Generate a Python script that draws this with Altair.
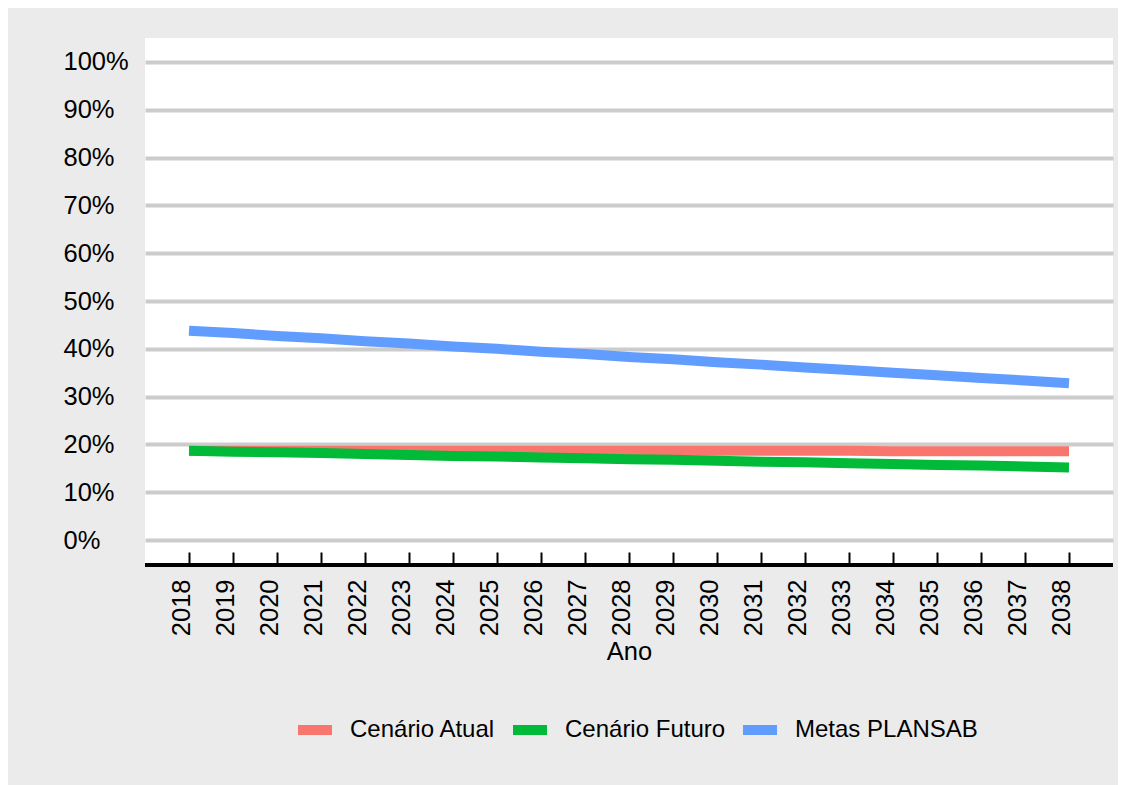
import altair as alt
import pandas as pd

anos = ["2018", "2019", "2020", "2021", "2022", "2023", "2024", "2025", "2026", "2027", "2028",
        "2029", "2030", "2031", "2032", "2033", "2034", "2035", "2036", "2037", "2038"]

cenario_atual = [18.7, 18.7, 18.7, 18.7, 18.7, 18.7, 18.7, 18.7, 18.7, 18.7, 18.7,
                 18.7, 18.7, 18.7, 18.7, 18.7, 18.6, 18.6, 18.6, 18.6, 18.6]
cenario_futuro = [18.7, 18.5, 18.4, 18.2, 18.0, 17.8, 17.6, 17.5, 17.3, 17.1, 16.9,
                  16.8, 16.6, 16.4, 16.3, 16.1, 15.9, 15.7, 15.6, 15.4, 15.2]
metas_plansab = [43.8, 43.3, 42.7, 42.2, 41.6, 41.1, 40.5, 40.0, 39.4, 38.9, 38.3,
                 37.8, 37.2, 36.7, 36.1, 35.6, 35.0, 34.5, 33.9, 33.4, 32.8]

series = ["Cenário Atual", "Cenário Futuro", "Metas PLANSAB"]
cores = ["#F8766D", "#00BA38", "#619CFF"]
y_ticks = [0, 10, 20, 30, 40, 50, 60, 70, 80, 90, 100]

rows = []
for nome, vals in zip(series, [cenario_atual, cenario_futuro, metas_plansab]):
    for ano, v in zip(anos, vals):
        rows.append({"Ano": ano, "valor": v, "serie": nome})
df = pd.DataFrame(rows)

FONT = "Liberation Sans"
y_scale = alt.Scale(domain=[-5.2, 105], nice=False, zero=False)

lines = alt.Chart(df).mark_line(strokeWidth=10, strokeCap="butt").encode(
    x=alt.X("Ano:O", sort=anos,
            scale=alt.Scale(type="point", padding=1),
            axis=alt.Axis(title="Ano", offset=-13, tickSize=13, ticks=True, tickColor="black",
                          tickWidth=2, domain=False, grid=False, labelAngle=270,
                          labelPadding=14, labelBaseline="alphabetic", labelFontSize=25.5,
                          labelColor="black", titleFontSize=25.5, titleColor="black",
                          titleFontWeight="normal", titlePadding=4)),
    y=alt.Y("valor:Q", scale=y_scale,
            axis=alt.Axis(title=None, values=y_ticks, labelExpr="datum.value + '%'",
                          labelAlign="left", labelPadding=82, ticks=False, tickSize=0,
                          domain=False, grid=True, gridColor="#CCCCCC", gridWidth=4,
                          labelFontSize=25.5, labelColor="black", labelBaseline="middle")),
    color=alt.Color("serie:N", scale=alt.Scale(domain=series, range=cores),
                    legend=alt.Legend(title=None, orient="none", direction="horizontal",
                                      legendX=148, legendY=670, symbolType="stroke",
                                      symbolStrokeWidth=10, symbolSize=1156,
                                      labelFontSize=24, labelColor="black", labelOffset=13,
                                      labelLimit=0, columnPadding=-3, padding=0)),
)

axis_line = alt.Chart(df).mark_rule(color="black", strokeWidth=2.5).encode(
    y=alt.datum(-5.2, scale=y_scale)
)

chart = alt.layer(axis_line, lines).properties(
    width=968, height=527,
    autosize=alt.AutoSizeParams(type="none"),
    padding={"left": 137, "top": 30, "right": 5, "bottom": 220},
    background="#EBEBEB",
).configure(font=FONT).configure_view(fill="white", stroke=None)

chart.save("out.html", embed_options={"renderer": "svg", "actions": False})
